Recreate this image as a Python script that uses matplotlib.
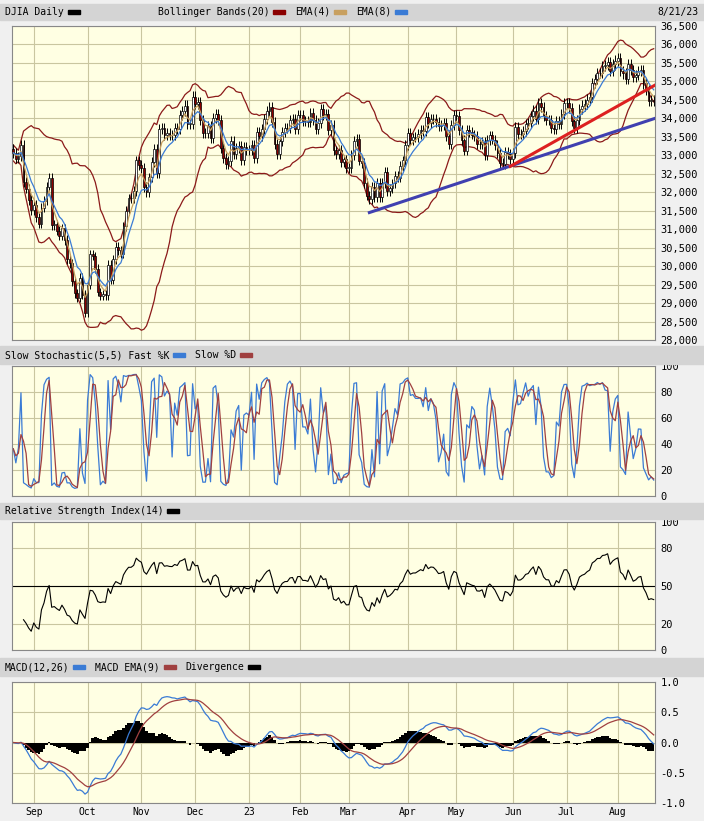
import numpy as np, pandas as pd, matplotlib
matplotlib.use("Agg")
import matplotlib.pyplot as plt
from matplotlib.patches import Rectangle

closes = [33063,32910,32969,33291,32283, 32098,31790,31510,31656,31318, 31145,31581,31775,32152,
 32381,31105,31135,30962,30822, 31020,30706,30184,30077,29590, 29261,29135,29684,29226,28726,
 29491,30317,30274,29927,29297, 29203,29240,29211,30039,29635, 30186,30524,30424,30334,31083,
 31500,31837,31839,32034,32862, 32733,32653,32148,32001,32403, 32827,33161,32514,33716,33748,
 33537,33593,33554,33547,33746, 33700,34098,34195,34347, 33850,33853,34590,34395,34430,
 33947,33597,33598,33781,33477, 34005,34109,33966,33203,32920, 32757,32850,33377,33027,33204,
 33242,32876,33221,33147, 33136,33270,32930,33631, 33518,33704,33974,34190,34303,
 33910,33297,33045,33375, 33630,33734,33744,33949,33978, 33717,34086,34093,33926,33926,
 33891,34156,33949,33699,33870, 34246,34089,34128,33697,33827, 33130,33045,33154,32817,
 32889,32657,32662,33004,33391, 33431,32856,32798,32254,31910, 31820,32155,31875,32247,31862,
 32245,32561,32031,32106,32238, 32433,32395,32718,32860,33274, 33601,33403,33483,33485,
 33587,33685,33647,34030,33887, 33987,33977,33897,33787,33809, 33876,33531,33302,33827,34098,
 34051,33684,33415,33128,33674, 33619,33562,33532,33310,33301, 33349,33013,33421,33536,33427,
 33287,33056,32800,32765,33093, 33043,32908,33061,33763, 33563,33573,33665,33834,33877,
 34066,34212,33980,34408,34299, 34054,33952,33947,33727, 33714,33927,33853,34123,34408,
 34418,34288,33922,33735, 33945,34262,34347,34395,34509, 34585,34952,35061,35225,35228,
 35411,35438,35520,35283,35459, 35560,35630,35283,35216,35066, 35473,35314,35124,35176,35281,
 35308,34946,34766,34475,34501, 34463]
holidays = ["2022-09-05","2022-11-24","2022-12-26","2023-01-02","2023-01-16","2023-02-20",
            "2023-04-07","2023-05-29","2023-06-19","2023-07-04"]
month_labels = ["Sep","Oct","Nov","Dec","23","Feb","Mar","Apr","May","Jun","Jul","Aug"]
blue_trend = [("2023-03-13", 31450), ("2023-08-21", 34000)]
red_trend = [("2023-05-31", 32700), ("2023-08-21", 34900)]

dates = pd.bdate_range("2022-08-22", "2023-08-21")
dates = dates[~dates.isin(pd.to_datetime(holidays))]
n = min(len(dates), len(closes)); dates = dates[-n:] if len(dates) > n else dates[:n]
c = pd.Series(np.array(closes[:n], float))
o = c.shift(1).fillna(c.iloc[0] * 1.003)
hi = np.maximum(o, c) * 1.004
lo = np.minimum(o, c) * 0.996
x = np.arange(n)

ema4 = c.ewm(span=4, adjust=False).mean()
ema8 = c.ewm(span=8, adjust=False).mean()
ma20 = c.rolling(20, min_periods=1).mean(); sd20 = c.rolling(20, min_periods=2).std().bfill()
bu, bl = ma20 + 2 * sd20, ma20 - 2 * sd20
hh = pd.Series(hi).rolling(5, min_periods=1).max(); ll = pd.Series(lo).rolling(5, min_periods=1).min()
fk = 100 * (c - ll) / (hh - ll)
sd = fk.rolling(3, min_periods=1).mean()
d = c.diff().fillna(0)
up = d.clip(lower=0).ewm(alpha=1/14, adjust=True).mean(); dn = (-d.clip(upper=0)).ewm(alpha=1/14, adjust=True).mean()
rsi = 100 - 100 / (1 + up / dn.replace(0, 1e-9))
rsi[:4] = np.nan
macd = (c.ewm(span=12, adjust=False).mean() - c.ewm(span=26, adjust=False).mean()) / 1000
sig = macd.ewm(span=9, adjust=False).mean(); div = macd - sig

W, H = 704, 821
fig = plt.figure(figsize=(W/100, H/100), dpi=100, facecolor="#f0f0f0")
BG = "#ffffe3"; GRID = "#c9c6a0"
font = dict(family="DejaVu Sans Mono", fontsize=7)
CW = 5.85
def ax_at(y0, y1):
    a = fig.add_axes([12/W, 1 - y1/H, (655-12)/W, (y1-y0)/H], facecolor=BG)
    a.set_xlim(-0.5, n - 0.5)
    a.yaxis.tick_right(); a.tick_params(length=0, labelsize=7.5, pad=4)
    for s in a.spines.values(): s.set_color("#888888")
    return a
def header(y0, y1, items, right=None, x0=5):
    fig.patches.append(Rectangle((0, 1 - y1/H), 1, (y1-y0)/H, transform=fig.transFigure, color="#d4d4d4", zorder=0))
    xx = x0; ym = (y0 + y1) / 2
    for t, col in items:
        fig.text(xx/W, 1 - ym/H, t, va="center", **font)
        xx += len(t) * CW + 4
        if col:
            fig.patches.append(Rectangle((xx/W, 1 - (ym+2)/H), 12/W, 4/H, transform=fig.transFigure, color=col))
            xx += 22
    if right: fig.text(698/W, 1 - ym/H, right, va="center", ha="right", **font)

month_pos = [i for i in range(1, n) if dates[i].month != dates[i-1].month]
def grid(a):
    a.set_xticks(month_pos); a.set_xticklabels([]); a.grid(True, color=GRID, lw=0.8); a.set_axisbelow(True)

# price panel
header(4, 20, [("DJIA Daily", "black")], "8/21/23")
xx = 158
for t, col in [("Bollinger Bands(20)", "#8b0000"), ("EMA(4)", "#c8a060"), ("EMA(8)", "#3a7bd5")]:
    fig.text(xx/W, 1 - 12/H, t, va="center", **font); xx += len(t)*CW + 4
    fig.patches.append(Rectangle((xx/W, 1 - 14/H), 12/W, 4/H, transform=fig.transFigure, color=col)); xx += 22
ap = ax_at(26, 340); grid(ap)
ap.set_ylim(28000, 36500); ap.set_yticks(range(28000, 36501, 500))
ap.set_yticklabels([f"{v:,}" for v in range(28000, 36501, 500)])
ap.vlines(x, lo, hi, color="black", lw=0.7, zorder=3)
for i in range(n):
    upc = c[i] >= o[i]
    ap.add_patch(Rectangle((i-0.35, min(o[i], c[i])), 0.7, max(abs(c[i]-o[i]), 15),
                 facecolor="white" if upc else "#8b0000", edgecolor="black", lw=0.5, zorder=4))
ap.plot(x, bu, color="#8b1a1a", lw=0.9); ap.plot(x, bl, color="#8b1a1a", lw=0.9)
ap.plot(x, ema4, color="#c8a060", lw=0.9, zorder=5); ap.plot(x, ema8, color="#3a7bd5", lw=0.9, zorder=5)
def idx(s): return int(np.argmin(np.abs((dates - pd.Timestamp(s)).days)))
for tr, col in [(blue_trend, "#4040b0"), (red_trend, "#dd2020")]:
    ap.plot([idx(tr[0][0]), n-0.5], [tr[0][1], tr[1][1]], color=col, lw=2.2, zorder=6)
ap.text(1.0, -0.045, "©BigCharts.com", transform=ap.transAxes, ha="right", va="center", fontsize=7, color="#555555", family="DejaVu Sans")

# stochastic
header(346, 364, [("Slow Stochastic(5,5) Fast %K", "#3a7bd5"), ("Slow %D", "#a04040")])
asx = ax_at(366, 496); grid(asx)
asx.set_ylim(0, 100); asx.set_yticks([0, 20, 40, 60, 80, 100])
asx.plot(x, fk, color="#3a7bd5", lw=0.9); asx.plot(x, sd, color="#a04040", lw=0.9)

# RSI
header(503, 519, [("Relative Strength Index(14)", "black")])
ar = ax_at(522, 650); grid(ar)
ar.set_ylim(0, 100); ar.set_yticks([0, 20, 50, 80, 100])
ar.axhline(50, color="black", lw=0.8); ar.plot(x, rsi, color="black", lw=0.8)

# MACD
header(658, 676, [("MACD(12,26)", "#3a7bd5"), ("MACD EMA(9)", "#a04040"), ("Divergence", "black")])
am = ax_at(682, 803); grid(am)
am.set_ylim(-1.0, 1.0); am.set_yticks([-1.0, -0.5, 0.0, 0.5, 1.0])
am.set_yticklabels(["-1.0", "-0.5", "0.0", "0.5", "1.0"])
am.fill_between(x, 0, div, color="black", step="mid", lw=0)
am.plot(x, macd, color="#3a7bd5", lw=0.9); am.plot(x, sig, color="#a04040", lw=0.9)
am.set_xticklabels(month_labels[:len(month_pos)], **font)
am.tick_params(axis="x", pad=3)
for a in (ap, asx, ar, am):
    for t in a.get_yticklabels(): t.set_family("DejaVu Sans Mono")
fig.savefig("out.png", dpi=100, facecolor=fig.get_facecolor())
